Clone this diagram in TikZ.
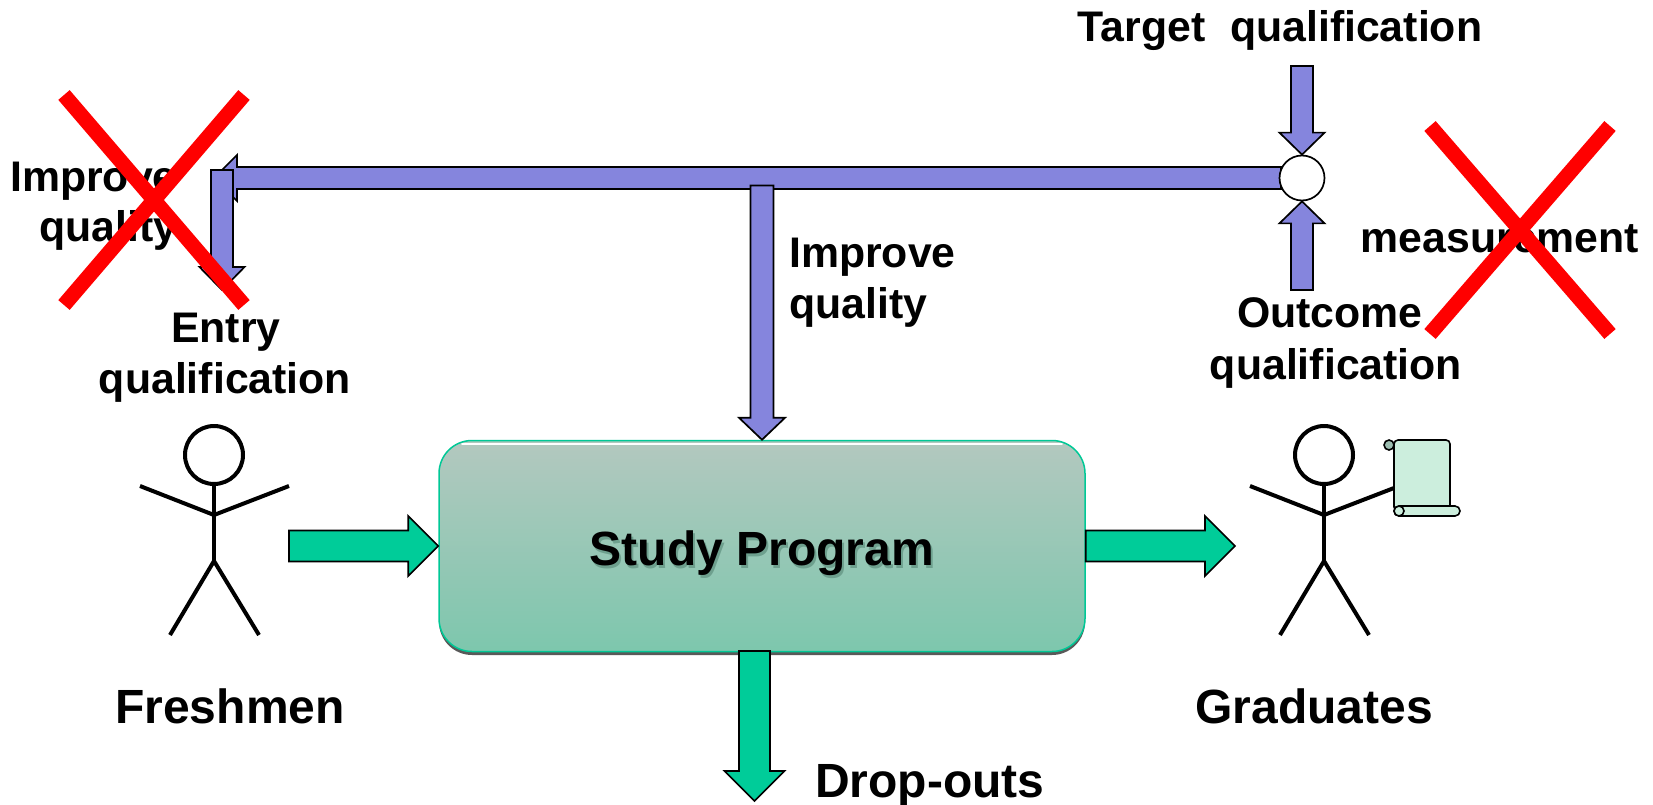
\documentclass[tikz,border=0pt]{standalone}
\usepackage{fontspec}
\setmainfont[Ligatures=NoCommon]{Liberation Sans}
\usetikzlibrary{calc}
\definecolor{arrowblue}{HTML}{8585DD}
\definecolor{arrowgreen}{HTML}{00CC99}
\definecolor{boxtop}{HTML}{B3C8BF}
\definecolor{boxbot}{HTML}{7DC7AD}
\definecolor{boxline}{HTML}{00C896}
\definecolor{scrollfill}{HTML}{CCEEDD}
\definecolor{scrollcurl}{HTML}{9CBDB0}
\definecolor{crossred}{HTML}{FF0000}
\newcommand{\blockarrow}[6]{% style, from, to, shaft half, head half, head length
  \coordinate (hb) at ($(#3)!#6pt!(#2)$);
  \draw[#1] ($(#2)!#4pt!90:(#3)$) -- ($(hb)!#4pt!90:(#3)$) -- ($(hb)!#5pt!90:(#3)$) -- (#3)
    -- ($(hb)!#5pt!-90:(#3)$) -- ($(hb)!#4pt!-90:(#3)$) -- ($(#2)!#4pt!-90:(#3)$) -- cycle;
}
\tikzset{
  x=1pt,y=-1pt,
  bluearrow/.style={draw=black,line width=1.7pt,fill=arrowblue,line join=miter},
  greenarrow/.style={draw=black,line width=1.7pt,fill=arrowgreen,line join=miter},
  label42/.style={inner sep=0pt,font=\fontsize{42.8}{50}\selectfont\bfseries,text=black},
  label47/.style={inner sep=0pt,font=\fontsize{48}{50}\selectfont\bfseries,text=black},
  limb/.style={draw=black,line width=4pt,line cap=butt,line join=miter},
  headc/.style={circle,draw=black,line width=4pt,fill=white,minimum size=58pt,inner sep=0pt},
  crossline/.style={draw=crossred,line width=15pt,line cap=butt},
  scrollpart/.style={draw=black,line width=1.6pt,fill=scrollfill},
}
\begin{document}
\begin{tikzpicture}
\useasboundingbox (0,0) rectangle (1653,805);
% program box
\fill[black!65,rounded corners=33pt] (439,445) rectangle (1085,655);
\node[draw=boxline,line width=1.5pt,rounded corners=33pt,top color=boxtop,bottom color=boxbot,
  minimum width=646pt,minimum height=211pt,inner sep=0pt] (prog) at (762,546) {};
\draw[white,line width=1.8pt,line cap=round] (462,443.6) -- (1062,443.6);
\node[label47,anchor=base,text=black!25!boxbot!90!white] (progshadow) at (764,568) {Study Program};
\node[label47,anchor=base] (progtext) at (762,565) {Study Program};
% feedback arrows
\coordinate (fbstart) at (1281,178);
\coordinate (fbtip) at (214,178);
\blockarrow{bluearrow}{fbstart}{fbtip}{11}{23}{23}
\node[circle,draw=black,line width=1.7pt,fill=white,minimum size=45pt,inner sep=0pt] (cmp) at (1302,178) {};
\coordinate (entrystart) at (222,170);
\coordinate (entrytip) at (222,290);
\blockarrow{bluearrow}{entrystart}{entrytip}{11}{22.5}{23}
\coordinate (midstart) at (762,185.5);
\blockarrow{bluearrow}{midstart}{prog.north}{11.5}{23}{22}
\coordinate (tgtstart) at (1302,66);
\blockarrow{bluearrow}{tgtstart}{cmp.north}{11}{22.5}{22}
\coordinate (outstart) at (1302,290);
\blockarrow{bluearrow}{outstart}{cmp.south}{11}{22.5}{22}
% flow arrows
\coordinate (inflow) at (289,546);
\blockarrow{greenarrow}{inflow}{prog.west}{15.5}{30}{30}
\coordinate (outflow) at (1235,546);
\blockarrow{greenarrow}{prog.east}{outflow}{15.5}{30}{30}
\coordinate (dropstart) at (754.5,651);
\coordinate (droptip) at (754.5,801);
\blockarrow{greenarrow}{dropstart}{droptip}{15.5}{30}{30}
% freshman
\node[headc] (fhead) at (214,455) {};
\coordinate (fhand1) at (140,486);
\coordinate (fhand2) at (289,486);
\coordinate (fchest) at (214,515);
\coordinate (fhip) at (214,561);
\coordinate (ffoot1) at (170,635);
\coordinate (ffoot2) at (259,635);
\draw[limb] (fhead.south) -- (fchest) -- (fhip);
\draw[limb] (fhand1) -- (fchest) -- (fhand2);
\draw[limb] (ffoot1) -- (fhip) -- (ffoot2);
% scroll
\draw[draw=black,line width=1.6pt,fill=scrollcurl] (1389,445) circle[radius=5pt];
\draw[scrollpart,rounded corners=4pt] (1394,511) -- (1394,440) -- (1450,440) -- (1450,511) -- cycle;
\draw[scrollpart,rounded corners=5pt] (1394,506) rectangle (1460,516);
\draw[scrollpart] (1399,511) circle[radius=5pt];
% graduate
\node[headc] (ghead) at (1324,455) {};
\coordinate (ghand1) at (1250,486);
\coordinate (ghand2) at (1394,488);
\coordinate (gchest) at (1324,515);
\coordinate (ghip) at (1324,561);
\coordinate (gfoot1) at (1280,635);
\coordinate (gfoot2) at (1369,635);
\draw[limb] (ghead.south) -- (gchest) -- (ghip);
\draw[limb] (ghand1) -- (gchest) -- (ghand2);
\draw[limb] (gfoot1) -- (ghip) -- (gfoot2);
% labels
\node[label42,anchor=base] (target) at (1280,42) {Target\hspace{0.3em} qualification};
\node[label42,anchor=base west] (impL1) at (10,192) {Improve};
\node[label42,anchor=base west] (impL2) at (39,241) {quality};
\node[label42,anchor=base] (entry1) at (226,342) {Entry};
\node[label42,anchor=base] (entry2) at (225,393) {qualification};
\node[label42,anchor=base west] (imp1) at (789,267) {Improve};
\node[label42,anchor=base west] (imp2) at (789,318) {quality};
\node[label42,anchor=base] (out1) at (1330,327) {Outcome};
\node[label42,anchor=base] (out2) at (1336,379) {qualification};
\node[label42,anchor=base] (meas) at (1500,252) {measurement};
\node[label47,anchor=base] (fresh) at (230,723) {Freshmen};
\node[label47,anchor=base] (grad) at (1314,723) {Graduates};
\node[label47,anchor=base west] (drop) at (815,797) {Drop-outs};
% crosses
\coordinate (xa1) at (64,95);
\coordinate (xa2) at (244,305);
\coordinate (xa3) at (244,95);
\coordinate (xa4) at (64,305);
\draw[crossline] (xa1) -- (xa2);
\draw[crossline] (xa3) -- (xa4);
\coordinate (xb1) at (1430,126);
\coordinate (xb2) at (1610,334);
\coordinate (xb3) at (1610,126);
\coordinate (xb4) at (1430,334);
\draw[crossline] (xb1) -- (xb2);
\draw[crossline] (xb3) -- (xb4);
\end{tikzpicture}
\end{document}
